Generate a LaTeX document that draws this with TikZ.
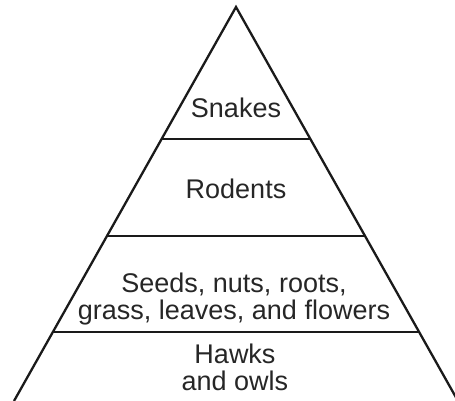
\documentclass[tikz,border=0pt]{standalone}
\usepackage{fontspec}
\setmainfont{Liberation Sans}
\usetikzlibrary{calc}
\definecolor{inkline}{HTML}{1A1A1A}
\definecolor{inktext}{HTML}{262626}
\begin{document}
\begin{tikzpicture}[x=1pt,y=-1pt,
  edge/.style={draw=inkline,line width=2.3pt,line cap=butt,line join=miter},
  label/.style={inner sep=0pt,anchor=base,align=center,text=inktext,
    font=\fontsize{27}{27}\selectfont}]
\useasboundingbox (0,0) rectangle (455,401);
\clip (0,0) rectangle (455,401);
\coordinate (A) at (236,7);
\coordinate (L) at (14,401);
\coordinate (R) at (458,401);
% level boundaries
\coordinate (l1) at ($(A)!{132/394}!(L)$);
\coordinate (r1) at ($(A)!{132/394}!(R)$);
\coordinate (l2) at ($(A)!{229/394}!(L)$);
\coordinate (r2) at ($(A)!{229/394}!(R)$);
\coordinate (l3) at ($(A)!{325/394}!(L)$);
\coordinate (r3) at ($(A)!{325/394}!(R)$);
\draw[edge] (L) -- (A) -- (R);
\draw[edge] (l1) -- (r1);
\draw[edge] (l2) -- (r2);
\draw[edge] (l3) -- (r3);
\node[label] (snakes) at (236,118) {Snakes};
\node[label] (rodents) at (236,198) {Rodents};
\node[label] (seeds) at (234,319) {Seeds, nuts, roots,\\grass, leaves, and flowers};
\node[label] (hawks) at (235,390) {Hawks\\and owls};
\end{tikzpicture}
\end{document}
